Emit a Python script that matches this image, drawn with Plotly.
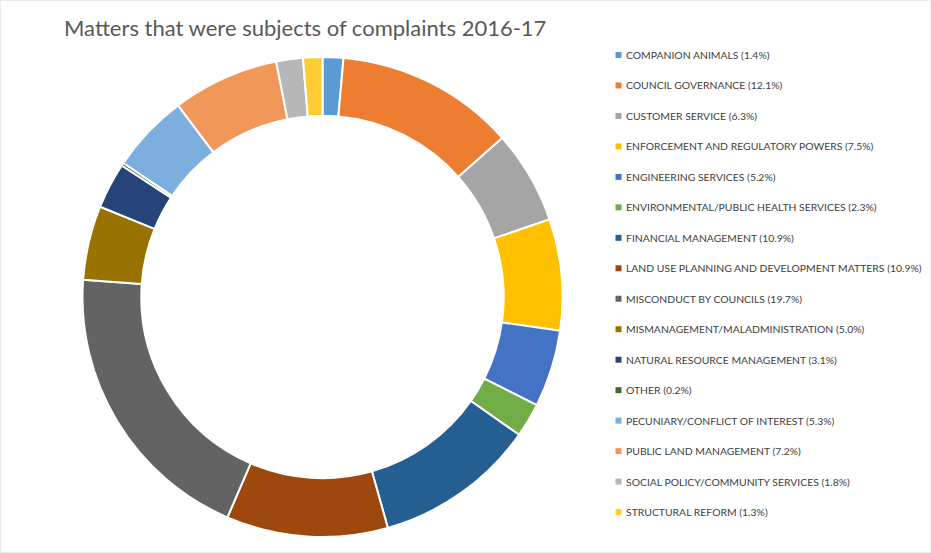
import plotly.graph_objects as go

categories = [
    "COMPANION ANIMALS", "COUNCIL GOVERNANCE", "CUSTOMER SERVICE",
    "ENFORCEMENT AND REGULATORY POWERS", "ENGINEERING SERVICES",
    "ENVIRONMENTAL/PUBLIC HEALTH SERVICES", "FINANCIAL MANAGEMENT",
    "LAND USE PLANNING AND DEVELOPMENT MATTERS", "MISCONDUCT BY COUNCILS",
    "MISMANAGEMENT/MALADMINISTRATION", "NATURAL RESOURCE MANAGEMENT", "OTHER",
    "PECUNIARY/CONFLICT OF INTEREST", "PUBLIC LAND MANAGEMENT",
    "SOCIAL POLICY/COMMUNITY SERVICES", "STRUCTURAL REFORM",
]
values = [1.4, 12.1, 6.3, 7.5, 5.2, 2.3, 10.9, 10.9, 19.7, 5.0, 3.1, 0.2, 5.3, 7.2, 1.8, 1.3]
colors = [
    "#5B9BD5", "#ED7D31", "#A5A5A5", "#FFC000", "#4472C4", "#70AD47",
    "#255E91", "#9E480E", "#636363", "#997300", "#264478", "#43682B",
    "#7CAFDD", "#F1975A", "#B7B7B7", "#FFCD33",
]
title = "Matters that were subjects of complaints 2016-17"

W, H = 931, 553
FONT = "Lato, 'Open Sans', sans-serif"

fig = go.Figure(go.Pie(
    labels=categories, values=values, sort=False, direction="clockwise",
    rotation=0, hole=0.755, textinfo="none", hoverinfo="label+percent",
    marker=dict(colors=colors, line=dict(color="white", width=2)),
    domain=dict(x=[82.5 / W, 562.5 / W], y=[1 - 537 / H, 1 - 57 / H]),
    showlegend=False,
))

annotations = [dict(
    text=title, x=62 / W, y=1 - 27 / H, xref="paper", yref="paper",
    xanchor="left", yanchor="middle", showarrow=False,
    font=dict(family=FONT, size=22, color="#595959"),
)]
shapes = [dict(type="rect", xref="paper", yref="paper", x0=0, x1=1, y0=0, y1=1,
               line=dict(color="#D9D9D9", width=1), fillcolor="rgba(0,0,0,0)")]

y0, dy = 55, 30.47
for i, (c, v, col) in enumerate(zip(categories, values, colors)):
    yc = y0 + i * dy
    shapes.append(dict(type="rect", xref="paper", yref="paper",
                       x0=615.5 / W, x1=621.5 / W, y0=1 - (yc + 3) / H, y1=1 - (yc - 3) / H,
                       line=dict(width=0), fillcolor=col))
    annotations.append(dict(
        text=f"{c} ({v:.1f}%)", x=624 / W, y=1 - yc / H, xref="paper", yref="paper",
        xanchor="left", yanchor="middle", showarrow=False,
        font=dict(family=FONT, size=10.4, color="#404040"),
    ))

fig.update_layout(
    width=W, height=H, margin=dict(l=0, r=0, t=0, b=0),
    paper_bgcolor="white", plot_bgcolor="white",
    annotations=annotations, shapes=shapes,
)
fig.write_html("out.html", config={"displayModeBar": False},
               post_script="document.body.style.margin='0';document.body.style.overflow='hidden';")
